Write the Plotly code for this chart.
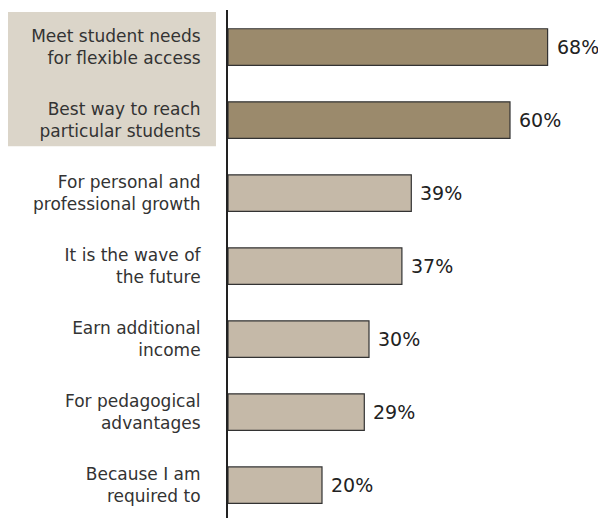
import plotly.graph_objects as go

categories = [
    "Meet student needs<br>for flexible access",
    "Best way to reach<br>particular students",
    "For personal and<br>professional growth",
    "It is the wave of<br>the future",
    "Earn additional<br>income",
    "For pedagogical<br>advantages",
    "Because I am<br>required to",
]
values = [68, 60, 39, 37, 30, 29, 20]
highlight = [True, True, False, False, False, False, False]

DARK = "#9b8a6c"
LIGHT = "#c5b9a8"
colors = [DARK if h else LIGHT for h in highlight]
FONT = "DejaVu Sans, sans-serif"

fig = go.Figure()
fig.add_trace(go.Bar(
    x=values, y=categories, orientation="h",
    marker=dict(color=colors, line=dict(color="#333333", width=1.2)),
    width=0.5, hoverinfo="skip",
))

for c, v in zip(categories, values):
    fig.add_annotation(x=v, y=c, text=f"{v}%", showarrow=False,
                       xanchor="left", xshift=7,
                       font=dict(family=FONT, size=19, color="#222222"))

n_hl = sum(highlight)
fig.add_shape(type="rect", xref="paper", yref="y",
              x0=-0.593, x1=-0.032, y0=-0.48, y1=n_hl - 0.64,
              fillcolor="#dbd5c9", line=dict(width=0), layer="below")

fig.update_layout(
    width=598, height=510,
    margin=dict(l=220, r=2, t=2, b=0, autoexpand=False),
    plot_bgcolor="white", paper_bgcolor="white",
    showlegend=False,
    font=dict(family=FONT, color="#333333"),
)
fig.update_xaxes(range=[0, 80], visible=False, showgrid=False, automargin=False)
fig.update_yaxes(range=[6.45, -0.507], showline=True, linecolor="#222222",
                 linewidth=2, showgrid=False, ticks="", automargin=False,
                 ticklabelstandoff=22,
                 tickfont=dict(family=FONT, size=17, color="#333333"))

fig.write_html("out.html")
